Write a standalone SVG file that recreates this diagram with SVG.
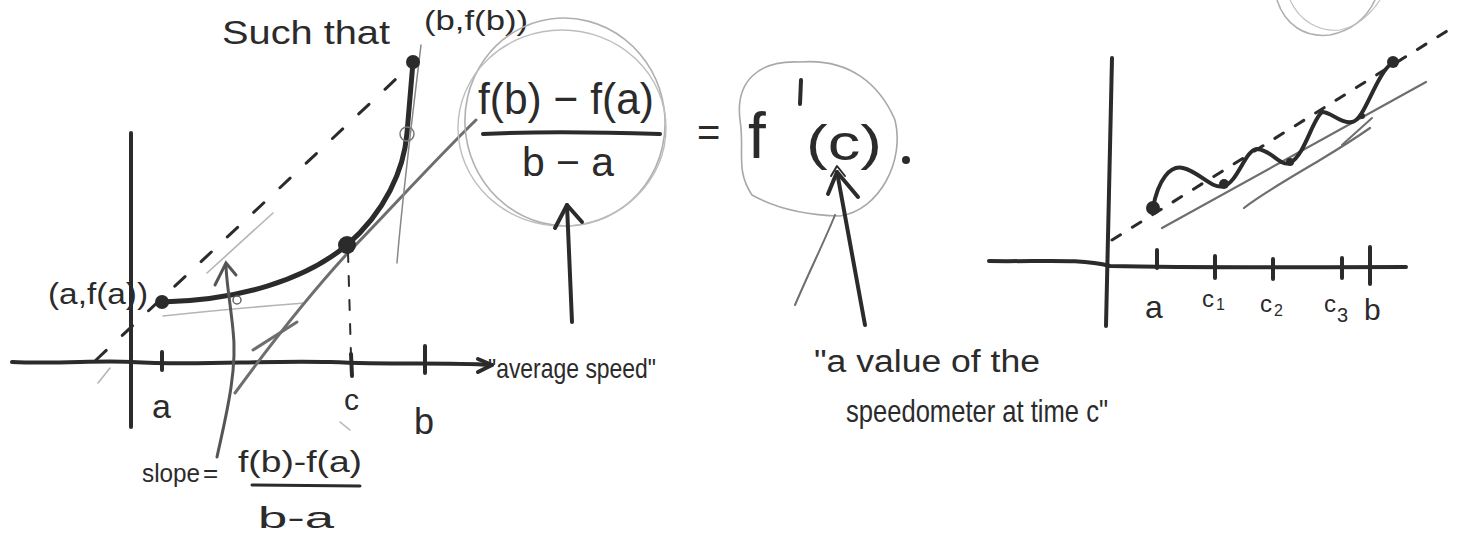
<svg xmlns="http://www.w3.org/2000/svg" width="1461" height="540" viewBox="0 0 1461 540">
<style>
.ink{fill:none;stroke:#2b2b2b;stroke-width:4;stroke-linecap:round;stroke-linejoin:round}
.thick{fill:none;stroke:#2b2b2b;stroke-width:5;stroke-linecap:round;stroke-linejoin:round}
.gray{fill:none;stroke:#6e6e6e;stroke-width:3;stroke-linecap:round}
.light{fill:none;stroke:#b5b5b5;stroke-width:1.6;stroke-linecap:round}
.dash{fill:none;stroke:#2b2b2b;stroke-width:3;stroke-dasharray:14 22;stroke-linecap:round}
.dot{fill:#2b2b2b}
text{font-family:"Liberation Sans","DejaVu Sans",sans-serif;fill:#2b2b2b}
</style>
<rect width="1461" height="540" fill="#fff"/>

<g id="left-graph">
  <!-- axes -->
  <path class="ink" d="M131,133 L131,427"/>
  <path class="ink" d="M12,362 C60,364 100,360 131,362 C200,366 260,360 330,362 C400,365 440,362 492,365"/>
  <path class="ink" d="M478,359 L492,365 L478,372"/>
  <path class="ink" d="M162,352 L162,370 M351,354 L352,376 M425,346 L425,373"/>
  <!-- light helper strokes -->
  <path class="light" d="M163,316 C200,312 240,308 305,303"/>
  <path class="light" d="M207,273 L273,213"/>
  <path class="light" d="M98,383 L110,368"/>
  <path class="light" d="M340,422 L350,430"/>
  <!-- secant (dashed) -->
  <path class="dash" d="M96,360 L412,64"/>
  <!-- tangent at c and helper -->
  <path class="gray" d="M235,393 C270,345 305,300 345,256 C390,210 430,165 476,120"/>
  <path class="gray" d="M253,350 L297,322"/>
  <path class="gray" d="M397,263 C402,200 412,120 421,45" style="stroke-width:1.5;stroke:#888"/>
  <!-- curve -->
  <path class="thick" d="M162,302 C240,300 305,280 347,245 C385,212 404,170 407,133 C409,110 411,85 413,62"/>
  <circle class="dot" cx="162" cy="302" r="7"/>
  <circle class="dot" cx="347" cy="245" r="9"/>
  <circle class="dot" cx="413" cy="62" r="7"/>
  <circle cx="407" cy="134" r="7" fill="none" stroke="#777" stroke-width="1.5"/>
  <circle cx="237" cy="300" r="4" fill="none" stroke="#666" stroke-width="1.5"/>
  <!-- vertical dashed at c -->
  <path class="dash" d="M348,252 L351,356" style="stroke-width:2;stroke-dasharray:10 14"/>
  <!-- slope arrow -->
  <path class="gray" d="M217,457 C225,420 238,370 233,330 C230,300 226,280 226,264" style="stroke:#555"/>
  <path class="gray" d="M215,285 L226,263 L236,275" style="stroke:#555"/>
  <!-- labels -->
  <text x="48" y="304" font-size="30" textLength="100" lengthAdjust="spacingAndGlyphs">(a,f(a))</text>
  <text x="152" y="418" font-size="34">a</text>
  <text x="344" y="410" font-size="30">c</text>
  <text x="414" y="434" font-size="36">b</text>
  <text x="222" y="44" font-size="34" textLength="168" lengthAdjust="spacingAndGlyphs">Such that</text>
  <text x="424" y="30" font-size="28" textLength="104" lengthAdjust="spacingAndGlyphs">(b,f(b))</text>
  <text x="142" y="482" font-size="26" textLength="58" lengthAdjust="spacingAndGlyphs">slope</text>
  <text x="203" y="482" font-size="26">=</text>
  <text x="238" y="472" font-size="30" textLength="124" lengthAdjust="spacingAndGlyphs">f(b)-f(a)</text>
  <path class="ink" d="M252,485 L360,486" style="stroke-width:3"/>
  <text x="258" y="528" font-size="30" textLength="76" lengthAdjust="spacingAndGlyphs">b-a</text>
</g>

<g id="mean-value-formula">
  <ellipse cx="565" cy="122" rx="100" ry="104" fill="none" stroke="#b0b0b0" stroke-width="1.6" transform="rotate(-8 565 122)"/>
  <ellipse cx="562" cy="128" rx="104" ry="98" fill="none" stroke="#bdbdbd" stroke-width="1.4"/>
  <text x="478" y="114" font-size="44" textLength="176" lengthAdjust="spacingAndGlyphs">f(b) − f(a)</text>
  <path class="ink" d="M483,134 C540,131 600,132 660,134"/>
  <text x="522" y="176" font-size="40" textLength="92" lengthAdjust="spacingAndGlyphs">b − a</text>
  <text x="697" y="146" font-size="40">=</text>
  <path d="M740,120 C735,80 760,60 800,62 C850,58 880,85 895,120 C905,160 880,210 840,216 C800,215 770,205 752,195 C735,170 745,150 740,120 Z" fill="none" stroke="#a8a8a8" stroke-width="1.6"/>
  <text x="748" y="158" font-size="64">f</text>
  <path class="ink" d="M801,80 L800,104"/>
  <text x="806" y="160" font-size="50" textLength="76" lengthAdjust="spacingAndGlyphs">(c)</text>
  <circle class="dot" cx="906" cy="160" r="4"/>
  <!-- arrows -->
  <path class="ink" d="M572,322 L567,205"/>
  <path class="ink" d="M555,228 L567,205 L582,222"/>
  <path class="ink" d="M865,325 L837,172"/>
  <path class="ink" d="M828,194 L837,172 L858,197"/>
  <path class="ink" d="M831,176 L837,166 L845,176" style="stroke-width:2"/>
  <path class="gray" d="M795,305 C810,270 825,240 835,215" style="stroke-width:2"/>
  <text x="488" y="378" font-size="28" textLength="168" lengthAdjust="spacingAndGlyphs">"average speed"</text>
  <text x="814" y="372" font-size="31" textLength="226" lengthAdjust="spacingAndGlyphs">"a value of the</text>
  <text x="846" y="422" font-size="32" textLength="262" lengthAdjust="spacingAndGlyphs">speedometer at time c"</text>
</g>

<g id="right-graph">
  <path d="M1277,0 C1285,25 1305,38 1330,35 C1355,30 1368,15 1375,0" fill="none" stroke="#b0b0b0" stroke-width="1.6"/>
  <path d="M1290,0 C1300,22 1320,32 1340,30 C1360,26 1372,12 1380,0" fill="none" stroke="#c0c0c0" stroke-width="1.2"/>
  <path class="ink" d="M1112,58 L1106,326"/>
  <path class="ink" d="M989,261 C1040,262 1080,258 1110,266 C1200,268 1300,267 1406,267"/>
  <path class="ink" d="M1157,250 L1157,268 M1215,256 L1215,278 M1273,259 L1273,279 M1342,258 L1342,278 M1370,247 L1370,284"/>
  <path class="dash" d="M1112,240 L1455,26" style="stroke-dasharray:10 14"/>
  <path class="gray" d="M1162,228 L1426,82" style="stroke-width:2.2"/>
  <path class="gray" d="M1244,208 C1260,195 1290,178 1320,160 C1340,148 1360,135 1370,128" style="stroke-width:2.2"/>
  <path class="gray" d="M1342,145 L1372,118" style="stroke-width:2"/>
  <path class="thick" d="M1153,208 C1158,180 1170,165 1183,168 C1200,172 1212,190 1224,186 C1238,182 1245,150 1257,149 C1272,150 1280,167 1290,163 C1305,155 1312,120 1322,112 C1332,112 1340,124 1352,122 C1365,120 1375,75 1393,62" style="stroke-width:4"/>
  <circle class="dot" cx="1153" cy="208" r="7"/>
  <circle class="dot" cx="1224" cy="184" r="5"/>
  <circle class="dot" cx="1290" cy="162" r="4"/>
  <circle class="dot" cx="1362" cy="116" r="3"/>
  <circle class="dot" cx="1393" cy="62" r="6"/>
  <text x="1145" y="318" font-size="32">a</text>
  <text x="1202" y="307" font-size="24">c</text><text x="1216" y="310" font-size="16">1</text>
  <text x="1260" y="312" font-size="24">c</text><text x="1274" y="316" font-size="16">2</text>
  <text x="1324" y="312" font-size="24">c</text><text x="1337" y="322" font-size="20">3</text>
  <text x="1364" y="320" font-size="30">b</text>
</g>
</svg>
